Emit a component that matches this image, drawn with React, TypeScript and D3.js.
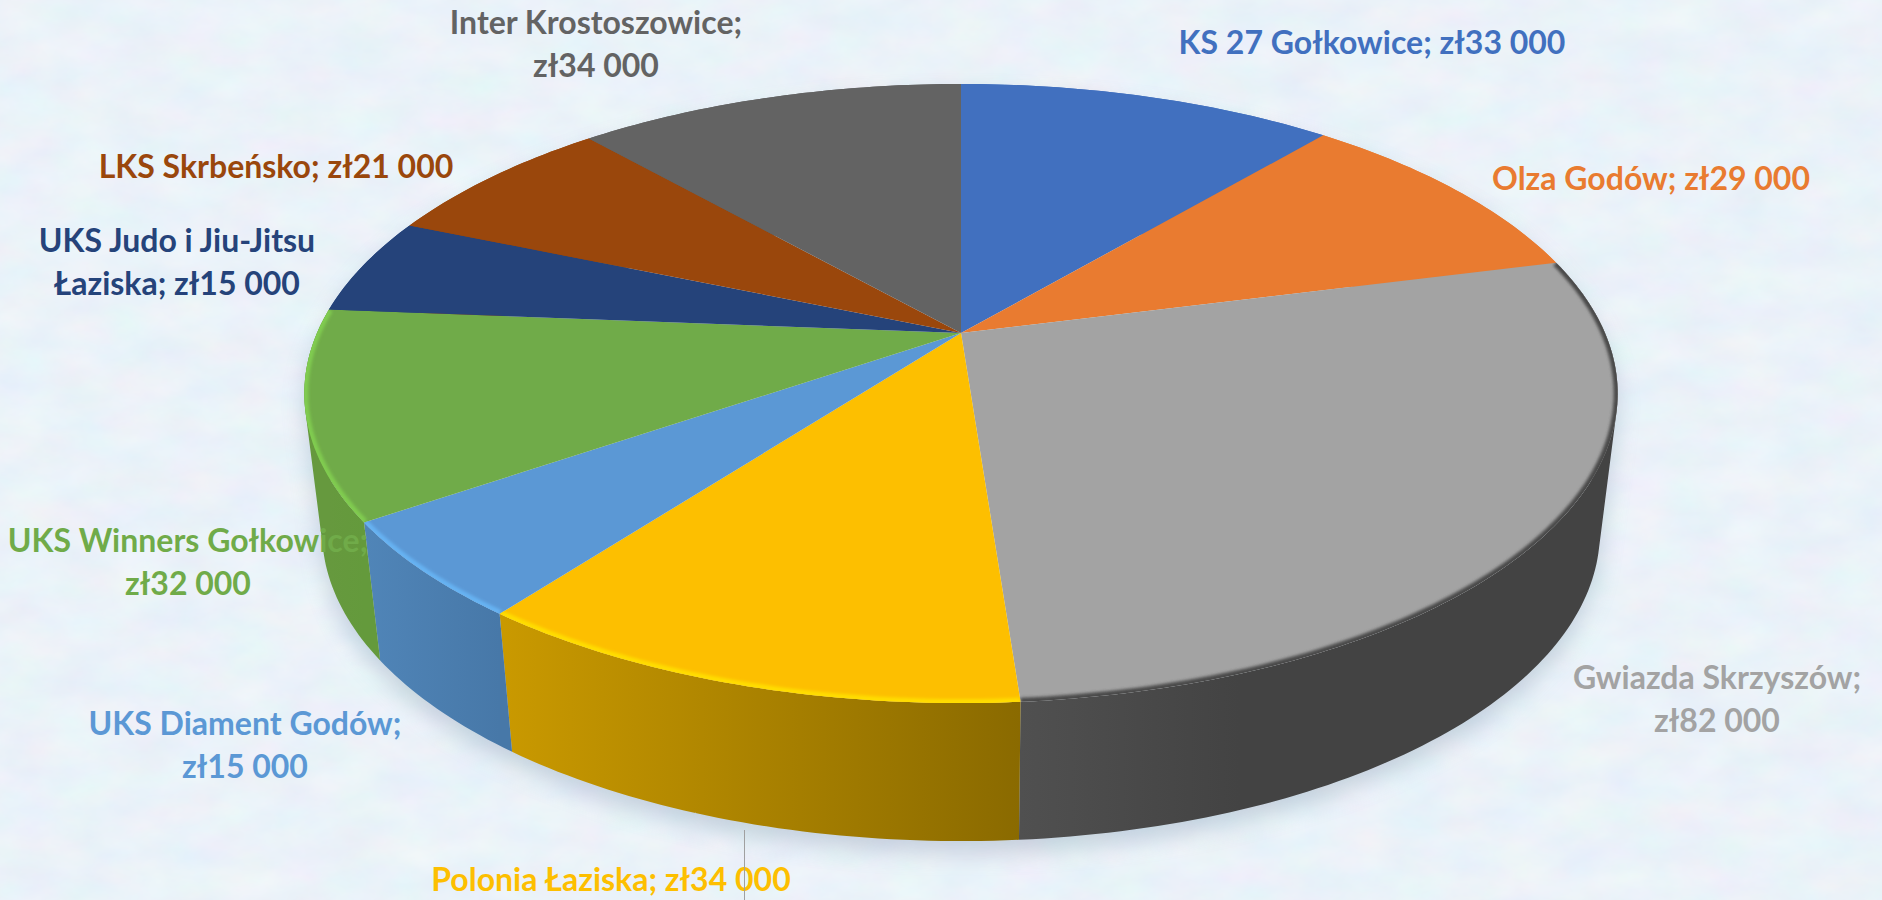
import React, { useMemo } from "react";
import * as d3 from "d3";

const categories = [
  "KS 27 Gołkowice", "Olza Godów", "Gwiazda Skrzyszów", "Polonia Łaziska", "UKS Diament Godów",
  "UKS Winners Gołkowice", "UKS Judo i Jiu-Jitsu Łaziska", "LKS Skrbeńsko", "Inter Krostoszowice",
];
const values = [33000, 29000, 82000, 34000, 15000, 32000, 15000, 21000, 34000];
const colors = ["#4170BF", "#E97B30", "#A3A3A3", "#FDBF00", "#5B98D5", "#70AB49", "#25437A", "#9A470C", "#636363"];
const sideStart = ["#4170BF", "#E97B30", "#505050", "#C99900", "#5085B8", "#66993E", "#25437A", "#9A470C", "#636363"];
const sideEnd = ["#4170BF", "#E97B30", "#434343", "#8A6A00", "#4778A8", "#649A3C", "#25437A", "#9A470C", "#636363"];
const rimColors = ["#4170BF", "#E97B30", "#4A4A4A", "#FFDD00", "#66B2F2", "#80CC50", "#25437A", "#9A470C", "#636363"];

// line break position (word count on first line), centre x, first baseline
const labelLayout = [
  { x: 1372, y: 54, br: 0 }, { x: 1651, y: 190, br: 0 }, { x: 1717, y: 689, br: 2 },
  { x: 611, y: 891, br: 0 }, { x: 245, y: 735, br: 3 }, { x: 188, y: 552, br: 3 },
  { x: 177, y: 252, br: 4 }, { x: 276, y: 178, br: 0 }, { x: 596, y: 34, br: 2 },
];

const W = 1882, H = 900;
const CX = 961, CY = 333, A = 644, B = 297.7, K = 0.1955;
const DEPTH = 138, BOTTOM_SCALE = 0.973;

type P = [number, number];
const top = (t: number): P => {
  const u = Math.sin(t), v = Math.cos(t), w = 1 + K * v;
  return [CX + (A * u) / w, CY - (B * v) / w];
};
const bottom = (t: number): P => {
  const [x, y] = top(t);
  return [CX + (x - CX) * BOTTOM_SCALE, y + DEPTH];
};
const angles = (a0: number, a1: number): number[] => {
  const n = Math.max(2, Math.ceil((a1 - a0) * 60));
  return d3.range(n + 1).map((i) => a0 + ((a1 - a0) * i) / n);
};
const samples = (a0: number, a1: number, f: (t: number) => P): P[] => angles(a0, a1).map(f);
const line = d3.line<P>().curve(d3.curveLinear);
const fmt = (v: number) => "zł" + d3.format(",")(v).replace(/,/g, " ");

// The wall of a slice as a union of quads, each with the same winding
const wallPath = (a0: number, a1: number): string => {
  const ts = angles(a0, a1);
  return d3
    .pairs(ts)
    .map(([s, e]) => {
      const q: P[] = [top(s), top(e), bottom(e), bottom(s)];
      if (d3.polygonArea(q) < 0) q.reverse();
      return (line(q) as string) + "Z";
    })
    .join("");
};

export default function App() {
  const arcs = useMemo(
    () => d3.pie<number>().sort(null).startAngle(0).endAngle(2 * Math.PI)(values),
    []
  );
  const hull = wallPath(0, 2 * Math.PI);
  return (
    <svg width={W} height={H} viewBox={`0 0 ${W} ${H}`} style={{ position: "absolute", left: 0, top: 0 }}>
      <defs>
        <filter id="paper" x="0" y="0" width="100%" height="100%" colorInterpolationFilters="sRGB">
          <feTurbulence type="fractalNoise" baseFrequency="0.018 0.03" numOctaves={4} seed={11} />
          <feColorMatrix
            type="matrix"
            values="0.07 0 0 0 0.885  0 0.05 0 0 0.925  0 0 0.03 0 0.96  0 0 0 0 1"
          />
        </filter>
        <filter id="shadow" x="-10%" y="-10%" width="120%" height="130%">
          <feGaussianBlur stdDeviation="11" />
        </filter>
        <filter id="soft" x="-10%" y="-10%" width="120%" height="120%">
          <feGaussianBlur stdDeviation="1.8" />
        </filter>
        {arcs.map((_, i) => (
          <linearGradient
            key={i}
            id={`side${i}`}
            gradientUnits="userSpaceOnUse"
            x1={i === 2 ? 1020 : i === 3 ? 505 : top(arcs[i].endAngle)[0]}
            x2={i === 2 ? 1240 : i === 3 ? 1020 : top(arcs[i].startAngle)[0]}
            y1={0}
            y2={0}
          >
            <stop offset="0" stopColor={sideStart[i]} />
            <stop offset="1" stopColor={sideEnd[i]} />
          </linearGradient>
        ))}
        {arcs.map((a, i) => (
          <clipPath key={i} id={`clip${i}`}>
            <path d={(line([[CX, CY], ...samples(a.startAngle, a.endAngle, top)]) as string) + "Z"} />
          </clipPath>
        ))}
      </defs>

      <rect width={W} height={H} fill="#EAF1FA" filter="url(#paper)" />

      <path d={hull} transform="translate(0,12)" fill="#8FA3B8" opacity={0.42} filter="url(#shadow)" />

      {arcs.map((a, i) => (
        <path key={i} d={wallPath(a.startAngle, a.endAngle)} fill={`url(#side${i})`} />
      ))}

      {arcs.map((a, i) => (
        <path
          key={i}
          d={(line([[CX, CY], ...samples(a.startAngle, a.endAngle, top)]) as string) + "Z"}
          fill={colors[i]}
        />
      ))}

      {arcs.map((a, i) =>
        i >= 2 && i <= 5 ? (
          <g key={i} clipPath={`url(#clip${i})`}>
            <path
              d={line(samples(a.startAngle, a.endAngle, top)) as string}
              fill="none"
              stroke={rimColors[i]}
              strokeWidth={8}
              filter="url(#soft)"
            />
          </g>
        ) : null
      )}

      {categories.map((name, i) => {
        const words = `${name}; ${fmt(values[i])}`.split(" ");
        const lay = labelLayout[i];
        const lines = lay.br ? [words.slice(0, lay.br).join(" "), words.slice(lay.br).join(" ")] : [words.join(" ")];
        return (
          <text
            key={i}
            textAnchor="middle"
            fill={colors[i]}
            style={{ fontFamily: "Lato, sans-serif", fontWeight: 700, fontSize: 32 }}
          >
            {lines.map((l, j) => (
              <tspan key={j} x={lay.x} y={lay.y + j * 43}>
                {l}
              </tspan>
            ))}
          </text>
        );
      })}

      <line x1={744.5} x2={744.5} y1={830} y2={900} stroke="#A0A0A0" strokeWidth={1} />
    </svg>
  );
}
